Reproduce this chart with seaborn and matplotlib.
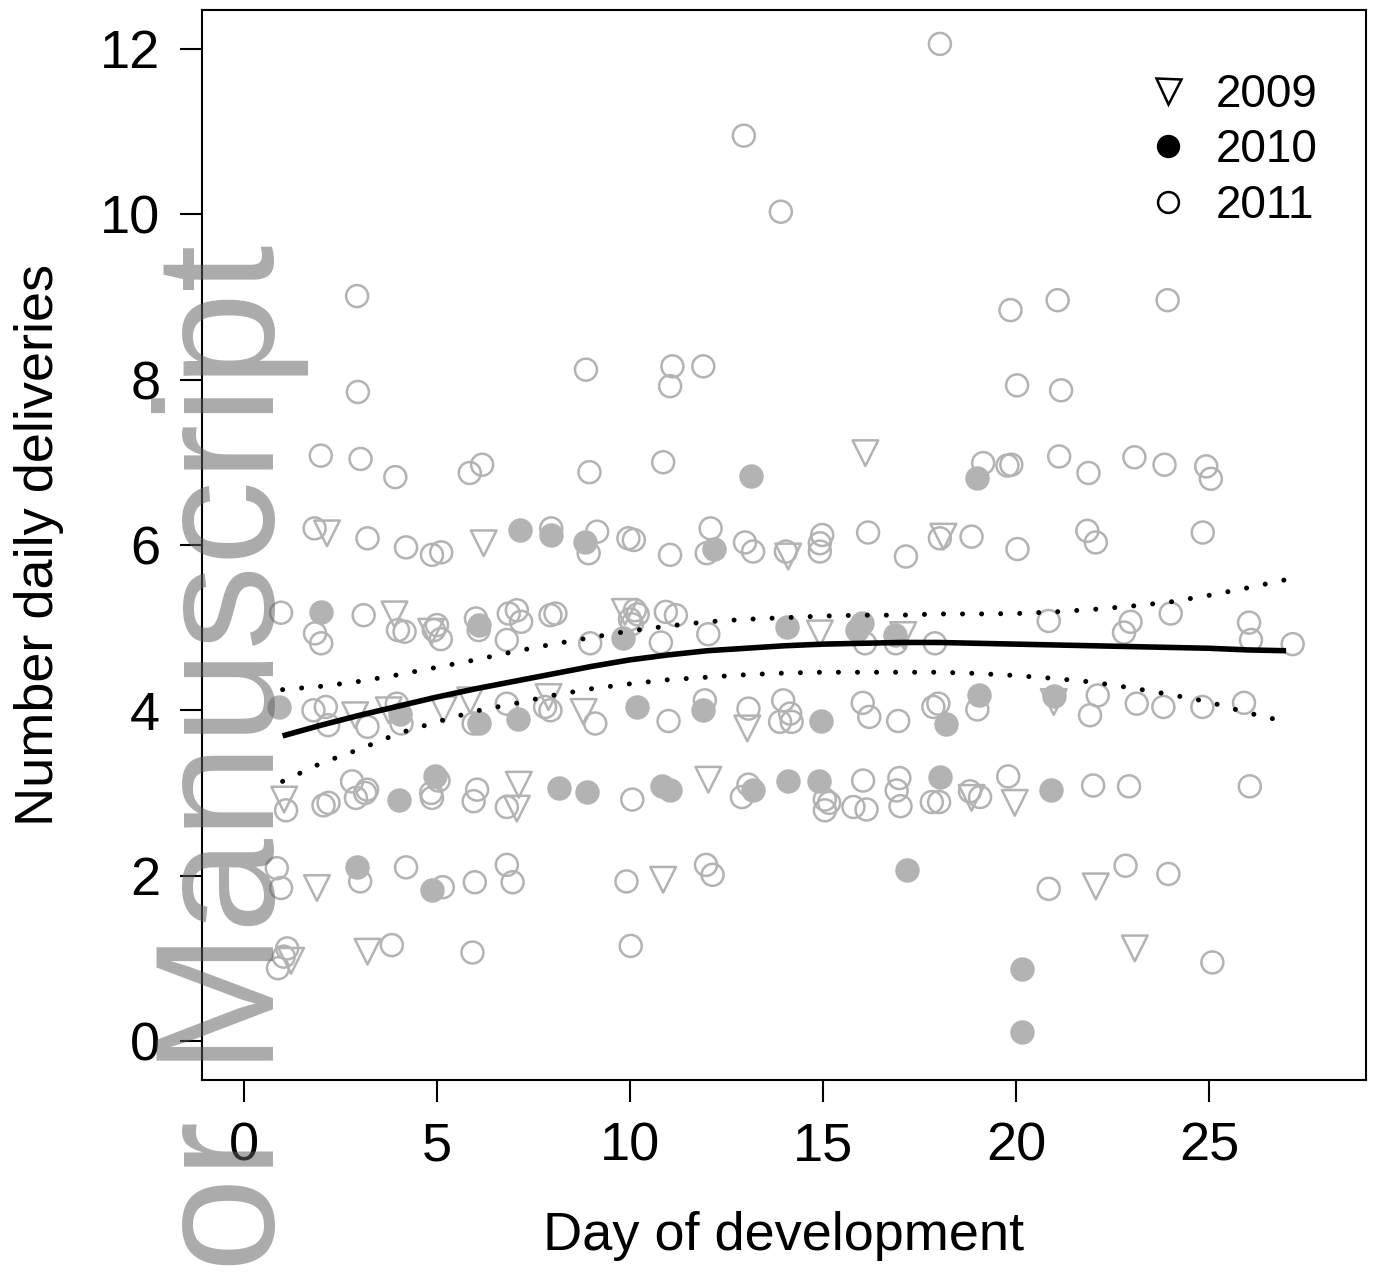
import numpy as np
import pandas as pd
import matplotlib
matplotlib.use("Agg")
import matplotlib.pyplot as plt
from matplotlib.lines import Line2D
import seaborn as sns

# ---- observed daily deliveries, by year ----
day_2009 = [2.15, 6.21, 14.10, 18.12, 16.10,
            3.90, 4.85, 9.87, 14.92, 17.08,
            2.88, 3.75, 5.17, 5.86, 7.89, 8.80, 13.04, 20.98,
            1.04, 7.12, 7.07, 12.03, 18.85, 19.97,
            1.89, 10.86, 22.07,
            1.22, 3.20, 23.08]
deliv_2009 = [6.14, 6.02, 5.86, 6.10, 7.11,
              5.16, 4.95, 5.19, 4.93, 4.91,
              3.94, 4.00, 4.01, 4.12, 4.16, 3.98, 3.78, 4.10,
              2.92, 3.10, 2.81, 3.16, 2.94, 2.88,
              1.85, 1.95, 1.87,
              0.97, 1.08, 1.12]

day_2010 = [7.14, 7.96, 8.84, 12.18, 13.13, 19.00,
            1.99, 6.08, 9.83, 14.06, 15.87, 16.00, 16.86,
            0.90, 4.05, 6.08, 7.10, 10.17, 11.90, 14.94, 18.18, 19.05, 20.98,
            4.01, 4.96, 8.17, 8.89, 10.82, 11.04, 13.18, 14.10, 14.90, 18.03, 20.91,
            2.93, 4.87, 17.18,
            20.15, 20.15]
deliv_2010 = [6.18, 6.12, 6.04, 5.95, 6.83, 6.81,
              5.19, 5.03, 4.88, 5.01, 4.97, 5.05, 4.91,
              4.04, 3.96, 3.85, 3.90, 4.04, 4.00, 3.87, 3.83, 4.19, 4.17,
              2.92, 3.20, 3.06, 3.01, 3.08, 3.03, 3.04, 3.14, 3.14, 3.19, 3.03,
              2.10, 1.83, 2.07,
              0.87, 0.11]

day_2011 = [18.03, 12.95, 13.91, 2.93, 19.86, 21.08, 23.93, 2.95, 8.86, 11.10,
            11.04, 11.90, 20.03, 21.17,
            1.99, 3.02, 3.92, 5.85, 6.17, 8.95, 10.86, 19.15, 19.78, 19.88,
            21.12, 21.88, 23.07, 23.85, 24.93, 25.05,
            1.83, 3.20, 4.20, 4.87, 5.11, 7.96, 8.93, 9.15, 9.96, 10.10,
            11.04, 12.09, 11.99, 12.98, 13.19, 14.04, 14.98, 14.92, 14.92, 16.17,
            17.15, 18.03, 18.85, 20.04, 21.85, 22.07, 24.84,
            0.96, 1.84, 2.00, 3.10, 4.16, 3.99, 5.00, 4.92, 5.10, 6.01,
            6.08, 6.86, 7.07, 7.18, 6.81, 7.94, 8.07, 8.97, 10.13, 10.00,
            10.20, 10.05, 10.80, 10.93, 11.19, 12.03, 16.09, 16.89, 17.90, 20.85,
            22.97, 22.80, 24.01, 26.04, 26.09, 27.17,
            1.80, 2.12, 2.18, 3.20, 3.96, 4.08, 5.95, 6.81, 7.80, 7.94,
            9.10, 11.00, 11.94, 13.07, 13.97, 14.15, 14.19, 13.89, 16.03, 16.20,
            16.95, 17.86, 17.99, 19.00, 22.12, 21.92, 23.13, 23.82, 24.83, 25.91,
            1.09, 2.06, 2.19, 2.80, 3.19, 2.90, 3.14, 5.04, 4.85, 4.87,
            6.04, 5.95, 6.81, 10.06, 13.07, 12.90, 15.05, 15.16, 15.05, 16.04,
            15.79, 16.13, 16.98, 16.91, 17.01, 17.82, 18.01, 18.81, 19.07, 19.80,
            22.00, 22.93, 26.06,
            0.85, 0.96, 3.01, 4.20, 5.15, 5.98, 6.81, 6.96, 9.91, 11.97,
            12.14, 20.85, 22.84, 23.95,
            0.88, 1.03, 1.12, 3.83, 5.92, 10.02, 25.09]
deliv_2011 = [12.06, 10.95, 10.03, 9.01, 8.84, 8.96, 8.96, 7.85, 8.12, 8.16,
              7.92, 8.16, 7.93, 7.87,
              7.08, 7.04, 6.82, 6.87, 6.97, 6.88, 7.00, 6.99, 6.96, 6.97,
              7.07, 6.87, 7.06, 6.97, 6.95, 6.80,
              6.20, 6.08, 5.97, 5.88, 5.91, 6.20, 5.90, 6.16, 6.08, 6.06,
              5.88, 6.20, 5.90, 6.03, 5.92, 5.92, 6.12, 6.02, 5.92, 6.15,
              5.86, 6.08, 6.10, 5.95, 6.17, 6.03, 6.15,
              5.18, 4.93, 4.81, 5.15, 4.95, 4.97, 5.03, 4.97, 4.86, 5.11,
              4.97, 5.17, 5.21, 5.07, 4.85, 5.15, 5.17, 4.81, 5.21, 5.10,
              5.16, 5.04, 4.82, 5.19, 5.15, 4.92, 4.81, 4.81, 4.81, 5.08,
              5.07, 4.94, 5.17, 5.06, 4.85, 4.80,
              4.00, 4.04, 3.82, 3.80, 4.08, 3.84, 3.84, 4.08, 4.04, 4.00,
              3.84, 3.87, 4.12, 4.02, 4.12, 3.96, 3.86, 3.86, 4.09, 3.92,
              3.87, 4.04, 4.08, 4.01, 4.18, 3.94, 4.08, 4.04, 4.04, 4.09,
              2.79, 2.85, 2.88, 3.14, 3.04, 2.94, 3.00, 3.15, 3.00, 2.94,
              3.04, 2.90, 2.83, 2.92, 3.10, 2.95, 2.92, 2.88, 2.79, 3.15,
              2.83, 2.80, 3.18, 3.03, 2.84, 2.89, 2.89, 3.02, 2.95, 3.20,
              3.09, 3.08, 3.08,
              2.09, 1.85, 1.93, 2.10, 1.86, 1.92, 2.13, 1.92, 1.93, 2.13,
              2.01, 1.84, 2.12, 2.02,
              0.88, 1.02, 1.12, 1.16, 1.07, 1.15, 0.95]

# ---- fitted trend with its confidence band ----
fit_day = list(range(1, 28))
fit_mean = [3.69, 3.82, 3.94, 4.05, 4.16, 4.26, 4.35, 4.44, 4.53, 4.61,
            4.67, 4.72, 4.75, 4.78, 4.80, 4.81, 4.82, 4.82, 4.81, 4.80,
            4.79, 4.78, 4.77, 4.76, 4.75, 4.73, 4.72]
fit_upper = [4.25, 4.29, 4.35, 4.43, 4.52, 4.61, 4.71, 4.80, 4.88, 4.96,
             5.02, 5.07, 5.10, 5.12, 5.14, 5.15, 5.15, 5.165, 5.165, 5.17,
             5.19, 5.22, 5.26, 5.31, 5.39, 5.48, 5.58]
fit_lower = [3.14, 3.36, 3.53, 3.72, 3.86, 3.99, 4.08, 4.18, 4.26, 4.32,
             4.37, 4.40, 4.43, 4.45, 4.46, 4.46, 4.46, 4.46, 4.445, 4.42,
             4.385, 4.34, 4.27, 4.19, 4.10, 3.97, 3.86]

x_ticks = [0, 5, 10, 15, 20, 25]
y_ticks = [0, 2, 4, 6, 8, 10, 12]
years = ["2009", "2010", "2011"]

sns.set_theme(style="white")
plt.rcParams["font.family"] = ["Liberation Sans", "DejaVu Sans"]
plt.rcParams["text.color"] = "black"

fig = plt.figure(figsize=(13.77, 12.74), dpi=100)
ax = fig.add_axes([202 / 1377, 1 - 1080 / 1274, (1366 - 202) / 1377, (1080 - 10) / 1274])
ax.set_facecolor("white")

grey = "#b3b3b3"
df09 = pd.DataFrame({"day": day_2009, "deliveries": deliv_2009})
df10 = pd.DataFrame({"day": day_2010, "deliveries": deliv_2010})
df11 = pd.DataFrame({"day": day_2011, "deliveries": deliv_2011})

sns.scatterplot(data=df09, x="day", y="deliveries", ax=ax, marker="v", s=340,
                color=grey, facecolor="none", edgecolor=grey, linewidth=1.8, zorder=2)
sns.scatterplot(data=df10, x="day", y="deliveries", ax=ax, marker="o", s=250,
                color=grey, edgecolor=grey, linewidth=1.8, zorder=2)
sns.scatterplot(data=df11, x="day", y="deliveries", ax=ax, marker="o", s=250,
                color=grey, facecolor="none", edgecolor=grey, linewidth=1.8, zorder=2)

fit = pd.DataFrame({"day": fit_day, "mean": fit_mean, "lower": fit_lower, "upper": fit_upper})
sns.lineplot(data=fit, x="day", y="mean", ax=ax, color="black", linewidth=4.0,
             solid_capstyle="butt", zorder=3)
for col in ["upper", "lower"]:
    sns.lineplot(data=fit, x="day", y=col, ax=ax, color="black", linewidth=3.6,
                 linestyle=(0, (0.01, 3.8)), dash_capstyle="round", zorder=3)

ax.set_xlim(-1.088, 29.07)
ax.set_ylim(-0.472, 12.47)
ax.set_xticks(x_ticks)
ax.set_yticks(y_ticks)
ax.set_xticklabels([str(v) for v in x_ticks])
ax.set_yticklabels([str(v) for v in y_ticks])
ax.tick_params(axis="both", which="major", direction="out", length=16, width=1.5,
               color="black", labelsize=39, labelcolor="black", pad=14,
               bottom=True, left=True)
for sp in ax.spines.values():
    sp.set_visible(True)
    sp.set_color("black")
    sp.set_linewidth(1.5)

ax.set_xlabel("Day of development", fontsize=39, color="black", labelpad=28)
ax.set_ylabel("Number daily deliveries", fontsize=39, color="black", labelpad=26)

handles = [
    Line2D([], [], linestyle="none", marker="v", markersize=18, markerfacecolor="none",
           markeredgecolor="black", markeredgewidth=1.8),
    Line2D([], [], linestyle="none", marker="o", markersize=15, markerfacecolor="black",
           markeredgecolor="black", markeredgewidth=1.8),
    Line2D([], [], linestyle="none", marker="o", markersize=15, markerfacecolor="none",
           markeredgecolor="black", markeredgewidth=1.8),
]
ax.legend(handles, years, loc="upper left", bbox_to_anchor=(1122 / 1377, 1 - 50 / 1274),
          bbox_transform=fig.transFigure, frameon=False, fontsize=33, labelcolor="black",
          handlelength=1.0, handletextpad=0.55, labelspacing=0.25, borderpad=0)

# repository watermark running up the left margin
fig.text(274 / 1377, 1 - 245 / 1274, "Author Manuscript", rotation=90,
         rotation_mode="anchor", ha="right", va="baseline", fontsize=122,
         color="#606060", alpha=0.53, zorder=10)

fig.savefig("out.png", dpi=100)
